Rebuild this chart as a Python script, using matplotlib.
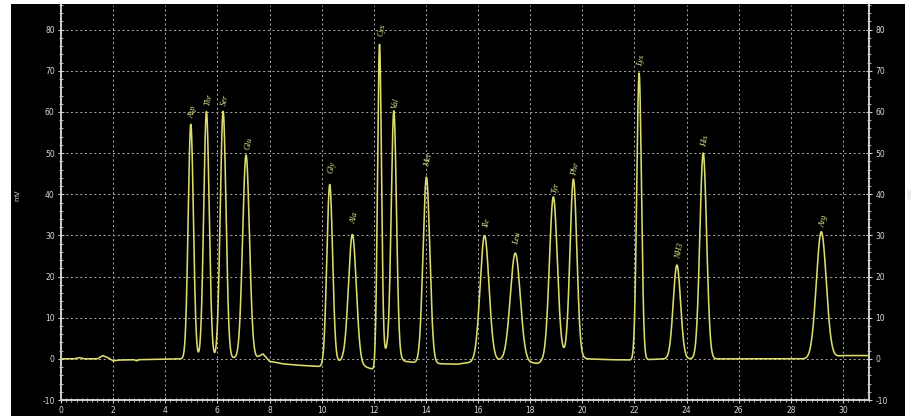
import numpy as np
import matplotlib
matplotlib.use("Agg")
import matplotlib.pyplot as plt
from matplotlib.patches import Rectangle
from matplotlib.ticker import MultipleLocator

# Peak table (retention time [min], height [mV], sigma [min])
peak_names = ["Asp", "Thr", "Ser", "Glu", "Gly", "Ala", "Cys", "Val", "Met",
              "Ile", "Leu", "Tyr", "Phe", "Lys", "NH3", "His", "Arg"]
peak_times = [4.98, 5.58, 6.22, 7.10, 10.31, 11.18, 12.22, 12.77, 14.02,
              16.25, 17.43, 18.89, 19.66, 22.18, 23.63, 24.64, 29.17]
peak_heights = [57.0, 60.0, 60.0, 49.3, 43.7, 31.3, 77.0, 59.3, 45.2,
                30.5, 26.3, 38.8, 43.0, 69.7, 22.8, 50.0, 30.6]
peak_sigmas = [0.10, 0.105, 0.11, 0.13, 0.11, 0.15, 0.075, 0.10, 0.13,
               0.17, 0.19, 0.15, 0.13, 0.09, 0.14, 0.13, 0.19]

# Baseline level (time, mV)
base_t = [0.0, 0.5, 0.7, 0.9, 1.4, 1.6, 1.8, 2.0, 2.2, 2.8, 2.9, 3.0, 4.7,
          7.5, 7.75, 8.0, 8.5, 9.0, 10.0, 10.8, 11.6, 12.0, 12.5, 13.2, 13.6,
          14.6, 15.2, 16.0, 16.9, 17.8, 18.3, 18.8, 19.4, 20.2, 21.0, 22.0,
          23.2, 24.2, 25.5, 28.5, 29.6, 30.0, 31.0]
base_v = [0.0, 0.0, 0.3, 0.0, 0.0, 0.8, 0.3, -0.5, -0.3, -0.2, -0.5, -0.2, 0.0,
          0.3, 1.2, -0.6, -1.2, -1.5, -1.9, -0.4, -1.8, -2.6, 2.0, -0.6, -0.9,
          -1.2, -1.3, -0.6, -0.3, -0.8, -1.1, 0.5, 1.0, 0.0, -0.2, -0.3,
          0.0, 0.0, 0.0, 0.0, 0.5, 0.8, 0.8]

x_ticks = list(range(0, 32, 2))
y_ticks = list(range(-10, 90, 10))

t = np.linspace(0, 31, 6000)
signal = np.interp(t, base_t, base_v)
for tr, h, s in zip(peak_times, peak_heights, peak_sigmas):
    signal += h * np.exp(-0.5 * ((t - tr) / s) ** 2)

fig = plt.figure(figsize=(9.12, 4.16), dpi=100, facecolor="white")
# black instrument panel
panel = Rectangle((11 / 912, 0), (905 - 11) / 912, (416 - 4) / 416,
                  transform=fig.transFigure, facecolor="black",
                  edgecolor="none", zorder=-10)
fig.add_artist(panel)
ax = fig.add_axes([61 / 912, 16 / 416, (869 - 61) / 912, (400 - 5) / 416])
ax.set_zorder(1)
ax.set_facecolor("black")

ax.plot(t, signal, color="#dcdc6e", lw=1.15, zorder=3)

ax.set_xlim(0, 31)
ax.set_ylim(-10, 86)
ax.set_xticks(x_ticks)
ax.set_yticks(y_ticks)
ax.xaxis.set_minor_locator(MultipleLocator(0.2))
ax.yaxis.set_minor_locator(MultipleLocator(2))
ax.grid(True, which="major", color="#a0a0a0", linestyle=(0, (2, 2.5)), lw=0.75)

for side in ["left", "right", "bottom"]:
    ax.spines[side].set_color("#cfcfcf")
    ax.spines[side].set_linewidth(1.4)
ax.spines["top"].set_visible(False)

ax.tick_params(axis="both", which="both", colors="#cfcfcf", labelsize=5.5,
               labelcolor="#d8d8d8")
ax.tick_params(axis="y", which="major", direction="inout", length=5, width=0.8,
               left=True, right=True, labelleft=True, labelright=True, pad=2)
ax.tick_params(axis="y", which="minor", direction="inout", length=3, width=0.6,
               left=True, right=True)
ax.tick_params(axis="x", which="major", direction="inout", length=5, width=0.8, pad=2)
ax.tick_params(axis="x", which="minor", direction="inout", length=3, width=0.6)
ax.set_yticklabels([str(v) for v in y_ticks])

for name, tr, h in zip(peak_names, peak_times, peak_heights):
    ax.text(tr + 0.04, h + 1.5, name, rotation=78, rotation_mode="anchor",
            ha="left", va="center", fontsize=6, color="#e8e890",
            family="Liberation Serif", style="italic", zorder=4)

fig.text(17 / 912, 1 - 195 / 416, "mV", rotation=90, ha="center", va="center",
         fontsize=5, color="#cfcfcf", zorder=2)
fig.text(910 / 912, 1 - 193 / 416, "mV", rotation=90, ha="center", va="center",
         fontsize=5, color="#cfcfcf", zorder=2)

fig.savefig("out.png", dpi=100, facecolor="white")
